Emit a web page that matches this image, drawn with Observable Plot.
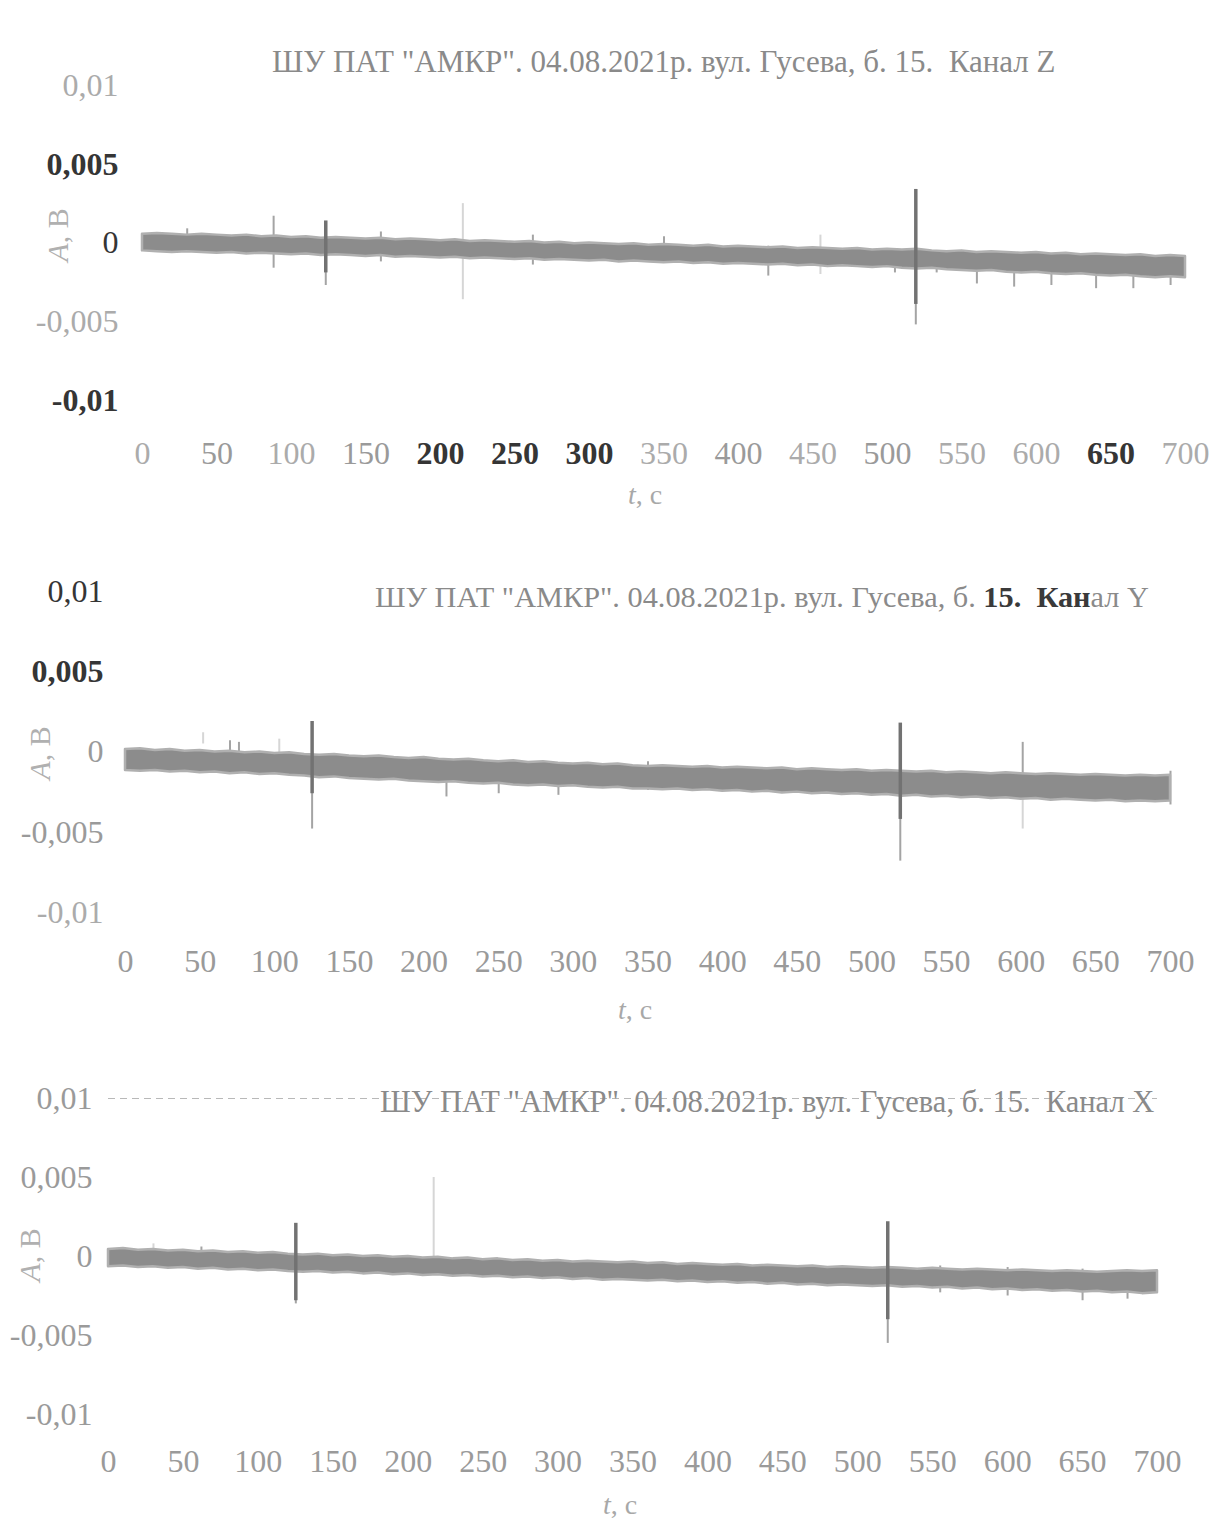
<!DOCTYPE html>
<html><head><meta charset="utf-8">
<script src="https://cdn.jsdelivr.net/npm/d3@7"></script>
<script src="https://cdn.jsdelivr.net/npm/@observablehq/plot@0.6"></script>
<style>
body{margin:0;background:#fff;}
#page{position:relative;width:1223px;height:1527px;overflow:hidden;font-family:"Liberation Serif","Times New Roman",serif;}
.panel{position:absolute;left:0;}
.title{position:absolute;font-size:31px;color:#8a8a8a;white-space:pre;line-height:30px;}
.title b{color:#3a3a3a;}
.xlab{position:absolute;font-size:28px;color:#a8a8a8;line-height:30px;transform:translate(-50%,-50%);white-space:pre;}
.ylab{position:absolute;font-size:30px;color:#b0b0b0;line-height:30px;transform:translate(-50%,-50%) rotate(-90deg);white-space:pre;}
</style></head><body><div id="page"></div><script>
// ---------------- data ----------------
const X_TICKS = [0, 50, 100, 150, 200, 250, 300, 350, 400, 450, 500, 550, 600, 650, 700];
const Y_TICKS = [-0.01, -0.005, 0, 0.005, 0.01];
const TITLE_BASE = "ШУ ПАТ \"АМКР\". 04.08.2021р. вул. Гусева, б. 15.  Канал ";
const CHANNELS = ["Z", "Y", "X"];
// envelope sampling times, s (every 10 s)
const TIME = d3.range(0, 701, 10);
// envelope of the record, mV (upper / lower edge of the noise band)
const Z_UPPER = [0.55,0.6,0.55,0.5,0.55,0.5,0.45,0.5,0.4,0.45,0.35,0.4,0.3,0.35,0.3,0.25,0.3,0.2,0.25,0.2,0.15,0.2,0.1,0.15,0.1,0.05,0.1,0.0,0.05,-0.05,0.0,-0.05,-0.1,-0.05,-0.15,-0.1,-0.15,-0.2,-0.15,-0.25,-0.2,-0.25,-0.3,-0.25,-0.35,-0.3,-0.35,-0.4,-0.35,-0.45,-0.4,-0.45,-0.4,-0.5,-0.55,-0.5,-0.6,-0.55,-0.6,-0.65,-0.6,-0.7,-0.65,-0.75,-0.7,-0.75,-0.8,-0.75,-0.85,-0.8,-0.85];
const Z_LOWER = [-0.5,-0.55,-0.6,-0.55,-0.6,-0.65,-0.6,-0.7,-0.65,-0.7,-0.75,-0.7,-0.8,-0.75,-0.8,-0.85,-0.8,-0.9,-0.85,-0.9,-0.95,-0.9,-1.0,-0.95,-1.0,-1.05,-1.0,-1.1,-1.05,-1.1,-1.15,-1.1,-1.2,-1.15,-1.2,-1.25,-1.2,-1.3,-1.25,-1.35,-1.3,-1.35,-1.4,-1.35,-1.45,-1.4,-1.5,-1.45,-1.5,-1.55,-1.5,-1.6,-1.65,-1.6,-1.7,-1.75,-1.8,-1.75,-1.85,-1.9,-1.85,-1.95,-2.0,-1.95,-2.05,-2.1,-2.05,-2.15,-2.2,-2.15,-2.2];
const Y_UPPER = [0.15,0.2,0.1,0.15,0.05,0.1,0.0,0.05,-0.05,0.0,-0.1,-0.05,-0.15,-0.2,-0.15,-0.25,-0.3,-0.25,-0.35,-0.4,-0.35,-0.45,-0.5,-0.45,-0.55,-0.6,-0.55,-0.65,-0.6,-0.7,-0.75,-0.7,-0.8,-0.75,-0.85,-0.9,-0.85,-0.9,-0.95,-0.9,-1.0,-0.95,-1.0,-1.05,-1.0,-1.1,-1.05,-1.1,-1.15,-1.1,-1.2,-1.15,-1.2,-1.25,-1.2,-1.3,-1.25,-1.3,-1.35,-1.3,-1.35,-1.4,-1.35,-1.4,-1.45,-1.4,-1.45,-1.5,-1.45,-1.5,-1.45];
const Y_LOWER = [-1.15,-1.2,-1.15,-1.25,-1.2,-1.3,-1.25,-1.35,-1.3,-1.4,-1.35,-1.45,-1.5,-1.6,-1.55,-1.65,-1.7,-1.75,-1.7,-1.8,-1.85,-1.9,-1.85,-1.95,-2.0,-1.95,-2.05,-2.1,-2.05,-2.15,-2.1,-2.2,-2.25,-2.2,-2.3,-2.3,-2.35,-2.3,-2.4,-2.35,-2.45,-2.4,-2.5,-2.45,-2.55,-2.5,-2.6,-2.55,-2.65,-2.6,-2.7,-2.65,-2.75,-2.7,-2.8,-2.75,-2.85,-2.8,-2.9,-2.85,-2.95,-2.9,-3.0,-2.95,-3.0,-3.05,-3.0,-3.1,-3.05,-3.1,-3.05];
const X_UPPER = [0.45,0.5,0.4,0.45,0.35,0.4,0.3,0.35,0.25,0.3,0.2,0.25,0.15,0.1,0.15,0.05,0.1,0.0,0.05,-0.05,0.0,-0.1,-0.05,-0.15,-0.1,-0.2,-0.15,-0.25,-0.2,-0.3,-0.25,-0.35,-0.3,-0.35,-0.4,-0.35,-0.45,-0.4,-0.5,-0.45,-0.5,-0.55,-0.5,-0.6,-0.55,-0.6,-0.65,-0.6,-0.7,-0.65,-0.7,-0.75,-0.7,-0.75,-0.8,-0.75,-0.8,-0.85,-0.8,-0.85,-0.9,-0.85,-0.9,-0.95,-0.9,-0.95,-1.0,-0.95,-0.9,-0.95,-0.9];
const X_LOWER = [-0.65,-0.6,-0.7,-0.65,-0.75,-0.7,-0.8,-0.75,-0.85,-0.8,-0.9,-0.85,-0.95,-1.0,-0.95,-1.05,-1.0,-1.1,-1.05,-1.15,-1.1,-1.2,-1.15,-1.25,-1.2,-1.3,-1.25,-1.35,-1.3,-1.4,-1.35,-1.45,-1.4,-1.5,-1.45,-1.5,-1.55,-1.5,-1.6,-1.55,-1.65,-1.6,-1.7,-1.65,-1.75,-1.7,-1.8,-1.75,-1.85,-1.8,-1.85,-1.9,-1.85,-1.95,-1.9,-2.0,-1.95,-2.05,-2.0,-2.1,-2.05,-2.15,-2.1,-2.2,-2.15,-2.25,-2.2,-2.3,-2.25,-2.35,-2.3];
// spikes: [t (s), max (mV), min (mV)]
const Z_STRONG = [[123, 1.4, -1.9], [519, 3.4, -3.9]];
const Z_MEDIUM = [[88, 1.7, -1.6], [123, 0.6, -2.7], [519, 1.0, -5.2], [262, 0.5, -1.4], [585, -0.6, -2.8], [420, -0.2, -2.1], [560, -0.6, -2.6], [610, -0.8, -2.7], [640, -0.8, -2.9], [665, -0.9, -2.9], [690, -0.9, -2.7], [350, 0.4, -1.3], [30, 0.9, -0.5], [160, 0.7, -1.2], [505, -0.9, -1.9], [533, -0.9, -1.9]];
const Z_FAINT = [[215, 2.5, -3.6], [455, 0.5, -2.0]];
const Y_STRONG = [[125, 1.9, -2.6], [519, 1.8, -4.2]];
const Y_MEDIUM = [[125, 0.0, -4.8], [519, 0.0, -6.8], [601, 0.6, -2.4], [70, 0.7, -0.6], [76, 0.6, -0.6], [215, -1.0, -2.8], [250, -1.4, -2.6], [290, -1.6, -2.7], [350, -0.6, -2.4], [700, -1.2, -3.3]];
const Y_FAINT = [[601, -1.5, -4.8], [103, 0.8, -0.5], [52, 1.2, 0.5]];
const X_STRONG = [[125, 2.1, -2.8], [520, 2.2, -4.0]];
const X_MEDIUM = [[520, 0.5, -5.5], [125, 0.0, -3.0], [62, 0.6, -0.4], [600, -0.7, -2.5], [650, -0.8, -2.8], [680, -0.9, -2.7], [555, -0.6, -2.3]];
const X_FAINT = [[217, 5.0, -0.3], [30, 0.8, -0.4]];
const X_GRID = [0.01];

// ---------------- layout / styles ----------------
const DARK = "#353535", MID = "#9a9a9a", LIGHT = "#ababab";
const panels = [
  {ch: "Z", upper: Z_UPPER, lower: Z_LOWER, strong: Z_STRONG, medium: Z_MEDIUM, faint: Z_FAINT, grid: [],
   top: 0, height: 520, mL: 142, mR: 38, yTop: 85, yBot: 400, padX: 41, padY: 24, fs: 31,
   title: [272, 47], xlab: [645, 495], ylab: [58, 235],
   xStyle: {"0": LIGHT, "100": LIGHT, "200": [DARK, 1], "250": [DARK, 1], "300": [DARK, 1], "650": [DARK, 1], "350": LIGHT, "450": LIGHT, "550": LIGHT, "600": LIGHT, "700": LIGHT},
   yStyle: {"0,01": LIGHT, "0,005": [DARK, 1], "0": DARK, "-0,005": LIGHT, "-0,01": [DARK, 1]}},
  {ch: "Y", upper: Y_UPPER, lower: Y_LOWER, strong: Y_STRONG, medium: Y_MEDIUM, faint: Y_FAINT, grid: [],
   top: 520, height: 500, mL: 125, mR: 53, yTop: 71, yBot: 392, padX: 37, padY: 22, fs: 30.3,
   title: [375, 582], xlab: [635, 1010], ylab: [40, 753], boldTail: true,
   xStyle: {}, yStyle: {"0,01": DARK, "0,005": [DARK, 1], "-0,01": LIGHT}},
  {ch: "X", upper: X_UPPER, lower: X_LOWER, strong: X_STRONG, medium: X_MEDIUM, faint: X_FAINT, grid: X_GRID,
   top: 1020, height: 507, mL: 108, mR: 66, yTop: 78, yBot: 394, padX: 35, padY: 16, fs: 30.5,
   title: [380, 1087], xlab: [620, 1505], ylab: [30, 1255],
   xStyle: {}, yStyle: {}}
];

const page = document.getElementById("page");
const fmtY = d => d === 0 ? "0" : String(d).replace(".", ",");
const toV = mv => mv / 1000;

panels.forEach((p, i) => {
  const band = TIME.map((t, k) => ({t, hi: toV(p.upper[k]), lo: toV(p.lower[k])}));
  const sp = arr => arr.map(([t, hi, lo]) => ({t, hi: toV(hi), lo: toV(lo)}));
  const svg = Plot.plot({
    width: 1223, height: p.height,
    marginTop: p.yTop, marginBottom: p.height - p.yBot, marginLeft: p.mL, marginRight: p.mR,
    style: {fontFamily: "'Liberation Serif', 'Times New Roman', serif", fontSize: "32px", background: "transparent", color: MID, overflow: "visible"},
    x: {domain: [0, 700], ticks: X_TICKS, tickFormat: d => String(d), tickSize: 0, tickPadding: p.padX, label: null},
    y: {domain: [-0.01, 0.01], ticks: Y_TICKS, tickFormat: fmtY, tickSize: 0, tickPadding: p.padY, label: null},
    marks: [
      Plot.ruleY(p.grid, {stroke: "#b8b8b8", strokeWidth: 1.2, strokeDasharray: "7,5"}),
      Plot.ruleX(sp(p.faint), {x: "t", y1: "lo", y2: "hi", stroke: "#d6d6d6", strokeWidth: 2}),
      Plot.ruleX(sp(p.medium), {x: "t", y1: "lo", y2: "hi", stroke: "#a4a4a4", strokeWidth: 2}),
      Plot.areaY(band, {x: "t", y1: "lo", y2: "hi", fill: "#8c8c8c", stroke: "#b0b0b0", strokeWidth: 2.5, curve: "linear"}),
      Plot.ruleX(sp(p.strong), {x: "t", y1: "lo", y2: "hi", stroke: "#727272", strokeWidth: 3.5})
    ]
  });
  svg.classList.add("panel");
  svg.style.top = p.top + "px";
  // soft scanned look (filter region in user space so thin lines stay visible)
  const fid = "soft" + i;
  d3.select(svg).insert("defs", ":first-child").append("filter").attr("id", fid)
    .attr("filterUnits", "userSpaceOnUse")
    .attr("x", 0).attr("y", 0).attr("width", 1223).attr("height", p.height)
    .append("feGaussianBlur").attr("stdDeviation", 0.7);
  d3.select(svg).selectAll('g[aria-label="area"], g[aria-label="rule"]').attr("filter", `url(#${fid})`);
  d3.select(svg).selectAll("text").each(function () {
    const txt = this.textContent;
    const isX = this.closest('[aria-label^="x-axis"]');
    const spec = (isX ? p.xStyle : p.yStyle)[txt];
    if (spec) {
      const [c, b] = Array.isArray(spec) ? spec : [spec, 0];
      this.setAttribute("fill", c);
      if (b) this.setAttribute("font-weight", "bold");
    }
  });
  page.appendChild(svg);

  const title = document.createElement("div");
  title.className = "title";
  title.style.fontSize = p.fs + "px";
  title.style.left = p.title[0] + "px";
  title.style.top = p.title[1] + "px";
  if (p.boldTail) {
    title.innerHTML = "ШУ ПАТ \"АМКР\". 04.08.2021р. вул. Гусева, б. <b>15.  Кан</b>ал " + p.ch;
  } else {
    title.textContent = TITLE_BASE + p.ch;
  }
  page.appendChild(title);

  const xl = document.createElement("div");
  xl.className = "xlab";
  xl.style.left = p.xlab[0] + "px";
  xl.style.top = p.xlab[1] + "px";
  xl.innerHTML = "<i>t</i>, с";
  page.appendChild(xl);

  const yl = document.createElement("div");
  yl.className = "ylab";
  yl.style.left = p.ylab[0] + "px";
  yl.style.top = p.ylab[1] + "px";
  yl.innerHTML = "<i>А</i>, В";
  page.appendChild(yl);
});
</script></body></html>
